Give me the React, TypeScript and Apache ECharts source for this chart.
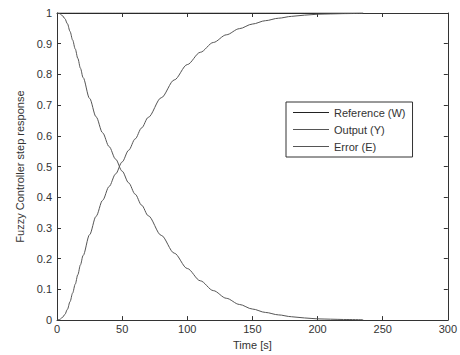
import React, { useEffect, useRef } from "react";
import * as echarts from "echarts";

const timeS = [0, 2, 4, 6, 8, 10, 12, 14, 16, 18, 20, 25, 30, 35, 40, 45, 50, 55, 60, 65, 70, 80, 90, 100, 110, 120, 130, 140, 150, 160, 170, 180, 190, 200, 210, 220, 235];
const outputY = [0, 0.002, 0.008, 0.018, 0.035, 0.06, 0.088, 0.117, 0.148, 0.18, 0.21, 0.278, 0.338, 0.39, 0.435, 0.476, 0.515, 0.553, 0.59, 0.626, 0.66, 0.724, 0.782, 0.832, 0.872, 0.904, 0.929, 0.949, 0.964, 0.975, 0.983, 0.989, 0.993, 0.996, 0.997, 0.998, 0.999];
const errorE = [1, 0.998, 0.992, 0.982, 0.965, 0.94, 0.912, 0.883, 0.852, 0.82, 0.79, 0.722, 0.662, 0.61, 0.565, 0.524, 0.485, 0.447, 0.41, 0.374, 0.34, 0.276, 0.218, 0.168, 0.128, 0.096, 0.071, 0.051, 0.036, 0.025, 0.017, 0.011, 0.007, 0.004, 0.003, 0.002, 0.001];
const referenceW = timeS.map(() => 1);
const seriesNames = ["Reference (W)", "Output (Y)", "Error (E)"];
const xTicks = { min: 0, max: 300, interval: 50 };
const yTicks = { min: 0, max: 1, interval: 0.1 };

const FONT = "Liberation Sans, Arial, sans-serif";
const TXT = "#333";
const AX = "#333";

export default function App() {
  const ref = useRef<HTMLDivElement>(null);
  useEffect(() => {
    if (!ref.current) return;
    const chart = echarts.init(ref.current, undefined, { renderer: "svg" });
    const pair = (vals: number[]) => timeS.map((t, i) => [t, vals[i]]);
    const axisCommon = {
      axisLine: { show: true, onZero: false, lineStyle: { color: AX, width: 1 } },
      axisTick: { show: true, inside: true, length: 4, lineStyle: { color: AX } },
      splitLine: { show: false },
    };
    const lineSeries = (name: string, vals: number[], color: string) => ({
      name,
      type: "line",
      data: pair(vals),
      symbol: "none",
      smooth: 0.3,
      smoothMonotone: "x",
      lineStyle: { color, width: 1 },
      itemStyle: { color },
      xAxisIndex: 0,
      yAxisIndex: 0,
      z: 3,
    });
    chart.setOption({
      animation: false,
      backgroundColor: "#fff",
      textStyle: { fontFamily: FONT },
      grid: { left: 57, top: 13, right: 12, bottom: 33 },
      legend: {
        show: true,
        left: 286,
        top: 102,
        orient: "vertical",
        data: seriesNames.map((n) => ({ name: n, icon: "rect" })),
        itemWidth: 36,
        itemHeight: 1,
        itemGap: 4,
        padding: [4, 7, 4, 7],
        borderColor: "#333",
        borderWidth: 1,
        backgroundColor: "#fff",
        textStyle: { fontFamily: FONT, fontSize: 11, color: TXT, lineHeight: 13 },
      },
      xAxis: [
        {
          type: "value",
          ...xTicks,
          position: "bottom",
          name: "Time [s]",
          nameLocation: "middle",
          nameGap: 15,
          nameTextStyle: { fontFamily: FONT, fontSize: 11, color: TXT },
          axisLabel: { fontFamily: FONT, fontSize: 11, color: TXT, margin: 3 },
          ...axisCommon,
        },
        {
          type: "value",
          ...xTicks,
          position: "top",
          axisLabel: { show: false },
          ...axisCommon,
        },
      ],
      yAxis: [
        {
          type: "value",
          ...yTicks,
          position: "left",
          name: "Fuzzy Controller step response",
          nameLocation: "middle",
          nameGap: 29,
          nameTextStyle: { fontFamily: FONT, fontSize: 11, color: TXT },
          axisLabel: { fontFamily: FONT, fontSize: 11, color: TXT, margin: 5 },
          ...axisCommon,
        },
        {
          type: "value",
          ...yTicks,
          position: "right",
          axisLabel: { show: false },
          ...axisCommon,
        },
      ],
      series: [
        lineSeries(seriesNames[0], referenceW, "#222"),
        lineSeries(seriesNames[1], outputY, "#555"),
        lineSeries(seriesNames[2], errorE, "#555"),
        { type: "line", data: [], xAxisIndex: 1, yAxisIndex: 1, symbol: "none" },
      ],
    });
    return () => chart.dispose();
  }, []);
  return (
    <div
      ref={ref}
      style={{ position: "fixed", left: 0, top: 0, width: 460, height: 355, background: "#fff" }}
    />
  );
}
